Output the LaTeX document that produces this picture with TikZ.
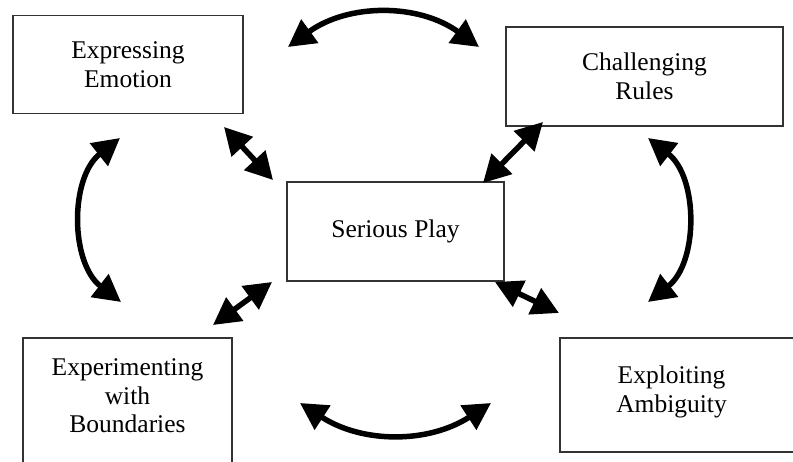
\documentclass[tikz,border=0pt]{standalone}
\usepackage{fontspec}
\setmainfont{Liberation Serif}
\usetikzlibrary{arrows.meta}
\begin{document}
\begin{tikzpicture}[x=1pt,y=-1pt,
  box/.style={draw=black!80, line width=1.3pt, rectangle, inner sep=0pt, align=center,
    font=\fontsize{25.5}{28.5}\selectfont},
  lbl/.style={inner sep=0pt, align=center, font=\fontsize{25.5}{28.5}\selectfont},
  link/.style={line width=5.5pt, {Triangle[length=27pt,width=28pt]}-{Triangle[length=27pt,width=28pt]}}]
\useasboundingbox (0,0) rectangle (793,462);
\fill[white] (0,0) rectangle (793,462);
% boxes
\node[box, minimum width=230pt, minimum height=98pt] (ee) at (128,64.5) {Expressing\\Emotion};
\node[box, minimum width=277pt, minimum height=99pt] (cr) at (644.5,76.5) {Challenging\\Rules};
\node[box, minimum width=217pt, minimum height=99pt] (sp) at (395.5,231.5) {Serious Play};
\node[box, minimum width=209pt, minimum height=160pt] (eb) at (127.5,418) {};
\node[lbl] (ebl) at (127.5,396) {Experimenting\\with\\Boundaries};
\node[box, minimum width=240pt, minimum height=114pt] (ea) at (680,395) {};
\node[lbl] (eal) at (671.5,392) {Exploiting\\Ambiguity};
% arrow end points
\coordinate (t1) at (288,47);  \coordinate (t2) at (479,47);
\coordinate (l1) at (120,138); \coordinate (l2) at (121,302);
\coordinate (r1) at (648,138); \coordinate (r2) at (648,302);
\coordinate (b1) at (300,403); \coordinate (b2) at (491,403);
\coordinate (d1a) at (224,127); \coordinate (d1b) at (273,180);
\coordinate (d2a) at (543,122); \coordinate (d2b) at (483,183);
\coordinate (d3a) at (213,325); \coordinate (d3b) at (272,282);
\coordinate (d4a) at (495,282); \coordinate (d4b) at (559,313);
% curved arrows
\draw[link] (t1) to[bend left=36] (t2);
\draw[link] (l1) to[bend right=52] (l2);
\draw[link] (r1) to[bend left=52] (r2);
\draw[link] (b1) to[bend right=33] (b2);
% diagonal arrows
\draw[link] (d1a) -- (d1b);
\draw[link] (d2a) -- (d2b);
\draw[link] (d3a) -- (d3b);
\draw[link] (d4a) -- (d4b);
\end{tikzpicture}
\end{document}
